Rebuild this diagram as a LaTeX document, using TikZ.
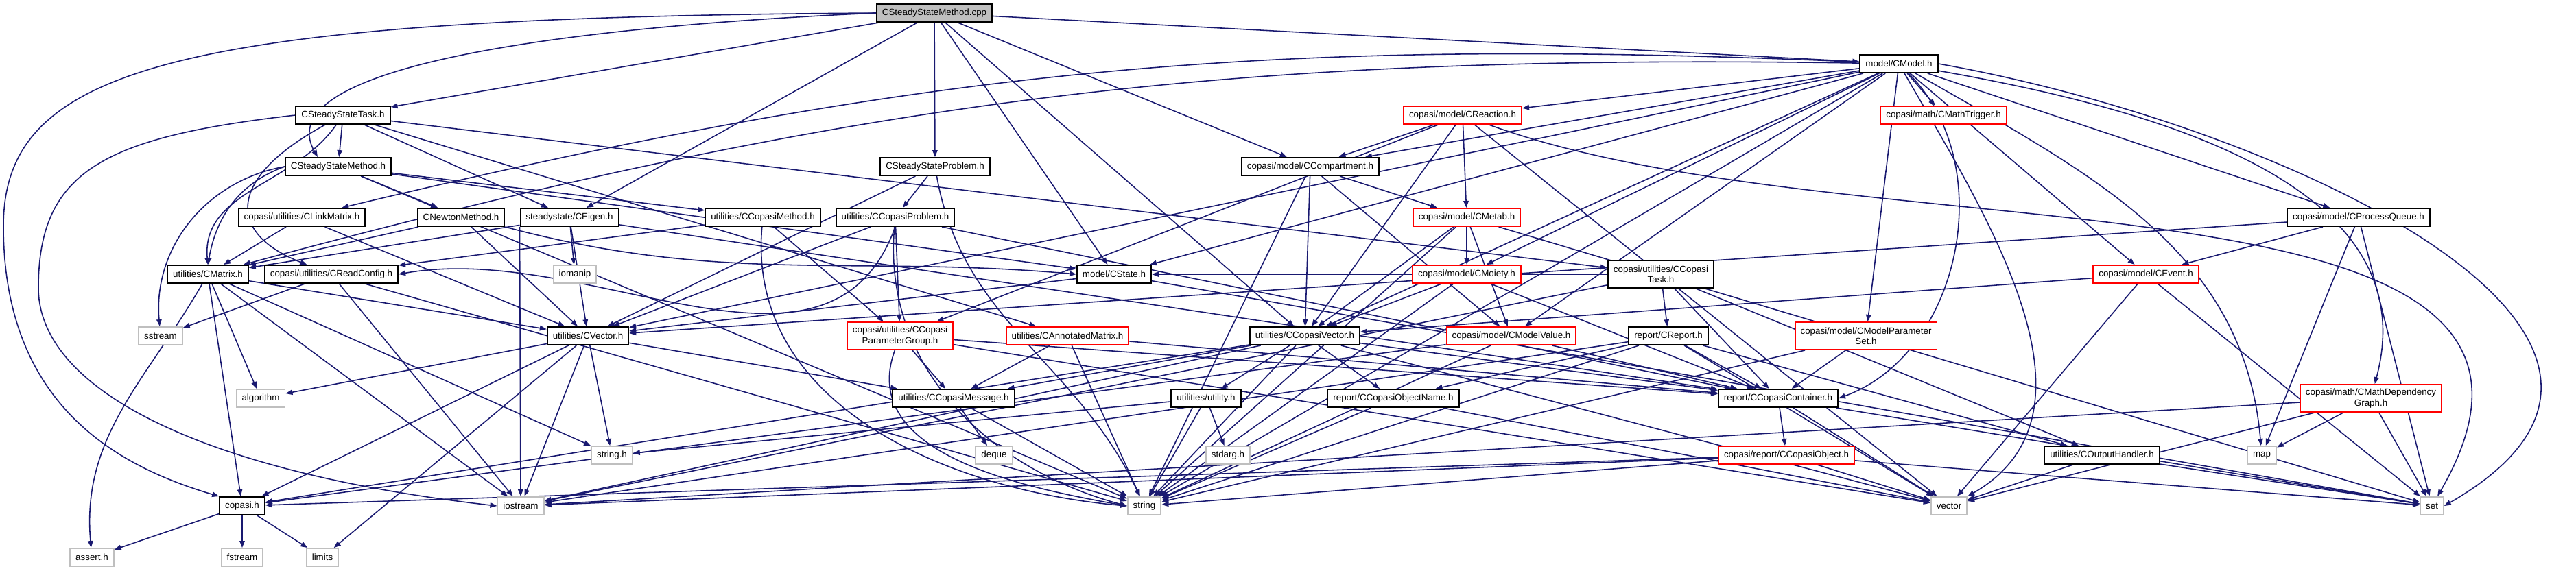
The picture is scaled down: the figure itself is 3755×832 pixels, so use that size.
\documentclass[tikz,border=0pt]{standalone}
\usepackage{fontspec}
\setmainfont{Liberation Sans}
\usetikzlibrary{arrows.meta,backgrounds}
\definecolor{incblue}{RGB}{25,25,112}
\definecolor{incred}{RGB}{255,0,0}
\definecolor{sysgray}{RGB}{191,191,191}

\begin{document}
\begin{tikzpicture}[
    x=0.01cm, y=-0.01cm,
    hdr/.style={draw=#1, fill=white, line width=0.55pt, minimum height=0.26cm, inner xsep=0.08cm, inner ysep=0pt, font=\fontsize{3.8}{4.4}\selectfont, align=center},
    hdr/.default=black,
    sys/.style={hdr=sysgray},
    bad/.style={hdr=incred},
    two/.style={minimum height=0.40cm},
    arr/.style={-{Triangle[length=0.1cm, width=0.075cm]}, incblue, line width=0.45pt}
]
\useasboundingbox (0,0) rectangle (3755,832);

% Source file and its headers
\node[hdr, fill=sysgray] (root) at (1362, 19) {CSteadyStateMethod.cpp};
\node[hdr] (model) at (2768, 93) {model/CModel.h};
\node[hdr] (task) at (500, 168) {CSteadyStateTask.h};
\node[bad] (react) at (2132, 168) {copasi/model/CReaction.h};
\node[bad] (trig) at (2833, 168) {copasi/math/CMathTrigger.h};
\node[hdr] (smeth) at (493, 243) {CSteadyStateMethod.h};
\node[hdr] (sprob) at (1363, 243) {CSteadyStateProblem.h};
\node[hdr] (comp) at (1910, 243) {copasi/model/CCompartment.h};
\node[hdr] (link) at (440, 317) {copasi/utilities/CLinkMatrix.h};
\node[hdr] (newton) at (672, 317) {CNewtonMethod.h};
\node[hdr] (eigen) at (830, 317) {steadystate/CEigen.h};
\node[hdr] (cmeth) at (1112, 317) {utilities/CCopasiMethod.h};
\node[hdr] (cprob) at (1305, 317) {utilities/CCopasiProblem.h};
\node[bad] (metab) at (2138, 317) {copasi/model/CMetab.h};
\node[hdr] (queue) at (3438, 317) {copasi/model/CProcessQueue.h};
\node[hdr] (matrix) at (303, 400) {utilities/CMatrix.h};
\node[hdr] (rconf) at (483, 400) {copasi/utilities/CReadConfig.h};
\node[sys] (iomanip) at (838, 400) {iomanip};
\node[hdr] (cstate) at (1624, 400) {model/CState.h};
\node[bad] (moiety) at (2138, 400) {copasi/model/CMoiety.h};
\node[hdr, two] (ctask) at (2421, 400) {copasi/utilities/CCopasi\\Task.h};
\node[bad] (event) at (3128, 400) {copasi/model/CEvent.h};
\node[sys] (sstream) at (234, 490) {sstream};
\node[hdr] (vec) at (857, 490) {utilities/CVector.h};
\node[bad, two] (pgroup) at (1312, 490) {copasi/utilities/CCopasi\\ParameterGroup.h};
\node[bad] (amat) at (1556, 490) {utilities/CAnnotatedMatrix.h};
\node[hdr] (cvec) at (1902, 490) {utilities/CCopasiVector.h};
\node[bad] (mvalue) at (2203, 490) {copasi/model/CModelValue.h};
\node[hdr] (report) at (2432, 490) {report/CReport.h};
\node[bad, two] (mpset) at (2720, 490) {copasi/model/CModelParameter\\Set.h};
\node[sys] (algo) at (380, 581) {algorithm};
\node[hdr] (cmsg) at (1390, 581) {utilities/CCopasiMessage.h};
\node[hdr] (util) at (1758, 581) {utilities/utility.h};
\node[hdr] (oname) at (2031, 581) {report/CCopasiObjectName.h};
\node[hdr] (cont) at (2592, 581) {report/CCopasiContainer.h};
\node[bad, two] (mdep) at (3456, 581) {copasi/math/CMathDependency\\Graph.h};
\node[sys] (strh) at (892, 664) {string.h};
\node[sys] (deque) at (1449, 664) {deque};
\node[sys] (stdarg) at (1790, 664) {stdarg.h};
\node[bad] (cobj) at (2604, 664) {copasi/report/CCopasiObject.h};
\node[hdr] (outh) at (3064, 664) {utilities/COutputHandler.h};
\node[sys] (map) at (3297, 664) {map};
\node[hdr] (copasi) at (353, 738) {copasi.h};
\node[sys] (iostr) at (759, 738) {iostream};
\node[sys] (string) at (1668, 738) {string};
\node[sys] (vector) at (2841, 738) {vector};
\node[sys] (set) at (3545, 738) {set};
\node[sys] (assert) at (134, 813) {assert.h};
\node[sys] (fstream) at (353, 813) {fstream};
\node[sys] (limits) at (470, 813) {limits};

% bends along the left rim
\coordinate (rimA) at (5, 330);
\coordinate (rimB) at (56, 420);

\begin{scope}[on background layer]
% Includes of the source file
\draw[arr] (root.west) .. controls (250,25) and (5,100) .. (rimA) .. controls (5,590) and (170,680) .. (copasi.north west);
\draw[arr] (root.west) .. controls (800,40) and (390,100) .. ([xshift=-0.3cm]smeth.north);
\draw[arr] (root) -- (task);
\draw[arr] (root) -- (eigen);
\draw[arr] (root) -- (sprob);
\draw[arr] (root) -- (cvec);
\draw[arr] (root) -- (cstate);
\draw[arr] (root) -- (comp);
\draw[arr] (root) -- (model);

% Steady state headers
\draw[arr] (task) -- (smeth);
\draw[arr] (task) to[out=235, in=95] (matrix.north);
\draw[arr] (task) .. controls (330,260) and (330,340) .. (rconf);
\draw[arr] (task) -- (eigen);
\draw[arr] (task) -- (amat);
\draw[arr] (task) -- (ctask);
\draw[arr] (task.west) .. controls (150,200) and (56,250) .. (rimB) .. controls (56,570) and (300,690) .. (iostr.west);
\draw[arr] (smeth) -- (newton);
\draw[arr] (smeth.west) to[out=200, in=80] (matrix.north);
\draw[arr] (smeth.west) to[out=190, in=95] (sstream);
\draw[arr] (smeth) -- (cmeth);
\draw[arr] (smeth) -- (string);
\draw[arr] (smeth) -- (cstate);
\draw[arr] (sprob) -- (cprob);
\draw[arr] (sprob) to[out=-80, in=115] (string);
\draw[arr] (sprob) -- (vec);
\draw[arr] (link) -- (matrix);
\draw[arr] (link) -- (vec);
\draw[arr] (newton) -- (matrix);
\draw[arr] (newton) -- (vec);
\draw[arr] (newton.south east) to[out=-15, in=175] (cstate.west);
\draw[arr] (eigen) -- (iomanip);
\draw[arr] (eigen) -- (vec);
\draw[arr] (eigen.south west) -- (iostr);
\draw[arr] (eigen) -- (matrix);
\draw[arr] (eigen) -- (cont);

% Utilities
\draw[arr] (cmeth) -- (rconf);
\draw[arr] (cmeth) to[out=-95, in=175] (string.west);
\draw[arr] (cmeth) -- (pgroup);
\draw[arr] (cprob) -- (vec);
\draw[arr] (cprob.south) to[out=-110, in=10] (rconf.east);
\draw[arr] (cprob) to[out=-95, in=165] (string.west);
\draw[arr] (cprob) -- (pgroup);
\draw[arr] (cprob) -- (cont);
\draw[arr] (matrix) -- (copasi);
\draw[arr] (matrix) to[out=-120, in=95] (assert);
\draw[arr] (matrix) -- (iostr);
\draw[arr] (matrix) -- (algo);
\draw[arr] (matrix) -- (strh);
\draw[arr] (matrix) -- (vec);
\draw[arr] (rconf) -- (sstream);
\draw[arr] (rconf) -- (iostr);
\draw[arr] (rconf) -- (string);
\draw[arr] (copasi) -- (assert);
\draw[arr] (copasi) -- (fstream);
\draw[arr] (copasi) -- (limits);
\draw[arr] (vec) -- (algo);
\draw[arr] (vec) -- (copasi);
\draw[arr] (vec) -- (limits);
\draw[arr] (vec) -- (iostr);
\draw[arr] (vec) -- (strh);
\draw[arr] (vec) -- (cmsg);

% Model headers
\draw[arr] (model) -- (cstate);
\draw[arr] (model) -- (react);
\draw[arr] (model) -- (trig);
\draw[arr] (model) -- (comp);
\draw[arr] (model) to[bend right=8] (link);
\draw[arr] (model) to[bend right=8] (matrix);
\draw[arr] (model) -- (vec);
\draw[arr] (model) -- (cvec);
\draw[arr] (model) -- (moiety);
\draw[arr] (model) -- (mvalue);
\draw[arr] (model) to[out=-45, in=20] (cont.east);
\draw[arr] (model) -- (mpset);
\draw[arr] (model) -- (event);
\draw[arr] (model) -- (queue);
\draw[arr] (model) to[out=-10, in=75] (mdep);
\draw[arr] (model) to[out=-60, in=30] (vector.north east);
\draw[arr] (model) to[out=-30, in=95] (map);
\draw[arr] (model.east) to[out=-10, in=30, looseness=1.3] (set.east);
\draw[arr] (model) -- (string);
\draw[arr] (react) -- (comp);
\draw[arr] (react) -- (metab);
\draw[arr] (react) -- (cvec);
\draw[arr] (react) -- (pgroup);
\draw[arr] (react) -- (vector);
\draw[arr] (react) to[out=-20, in=60] (set);
\draw[arr] (comp) -- (cvec);
\draw[arr] (comp) -- (metab);
\draw[arr] (comp) -- (mvalue);
\draw[arr] (comp) -- (string);
\draw[arr] (metab) -- (moiety);
\draw[arr] (metab) -- (mvalue);
\draw[arr] (metab) -- (string);
\draw[arr] (metab) -- (set);
\draw[arr] (metab) -- (cvec);
\draw[arr] (moiety) -- (cvec);
\draw[arr] (moiety) -- (string);
\draw[arr] (moiety) -- (cont);
\draw[arr] (cstate) -- (vec);
\draw[arr] (cstate) -- (set);
\draw[arr] (ctask) -- (report);
\draw[arr] (ctask) -- (cont);
\draw[arr] (ctask) -- (outh);
\draw[arr] (ctask) -- (cstate);
\draw[arr] (ctask) -- (iostr);
\draw[arr] (event) -- (cvec);
\draw[arr] (event) -- (vector);
\draw[arr] (event) -- (set);
\draw[arr] (queue) -- (event);
\draw[arr] (queue) -- (vec);
\draw[arr] (queue) -- (map);
\draw[arr] (queue) -- (set);

% Containers and objects
\draw[arr] (cvec) -- (oname);
\draw[arr] (cvec) -- (cont);
\draw[arr] (cvec) -- (cmsg);
\draw[arr] (cvec) -- (util);
\draw[arr] (cvec) -- (copasi);
\draw[arr] (cvec) -- (iostr);
\draw[arr] (cvec) -- (string);
\draw[arr] (cvec) -- (vector);
\draw[arr] (pgroup) -- (cmsg);
\draw[arr] (pgroup) to[out=-110, in=170] (string.west);
\draw[arr] (pgroup) -- (cont);
\draw[arr] (pgroup) -- (vector);
\draw[arr] (amat) -- (string);
\draw[arr] (amat) -- (cont);
\draw[arr] (amat) -- (cmsg);
\draw[arr] (mvalue) -- (copasi);
\draw[arr] (mvalue) -- (string);
\draw[arr] (mvalue) -- (cont);
\draw[arr] (report) -- (oname);
\draw[arr] (report) -- (iostr);
\draw[arr] (report) -- (string);
\draw[arr] (report) -- (vector);
\draw[arr] (report) -- (cont);
\draw[arr] (report) -- (outh);
\draw[arr] (mpset) -- (cont);
\draw[arr] (mpset) -- (string);
\draw[arr] (cmsg) -- (string);
\draw[arr] (cmsg) -- (deque);
\draw[arr] (util) -- (strh);
\draw[arr] (util) -- (string);
\draw[arr] (util) -- (stdarg);
\draw[arr] (oname) -- (string);
\draw[arr] (oname) -- (vector);
\draw[arr] (cont) -- (cobj);
\draw[arr] (cont) -- (vector);
\draw[arr] (cont) -- (set);
\draw[arr] (mdep) -- (iostr);
\draw[arr] (mdep) -- (map);
\draw[arr] (mdep) -- (vector);
\draw[arr] (mdep) -- (set);
\draw[arr] (cobj) -- (copasi);
\draw[arr] (cobj) -- (iostr);
\draw[arr] (cobj) -- (string);
\draw[arr] (cobj) -- (vector);
\draw[arr] (cobj) -- (set);
\draw[arr] (outh) -- (vector);
\draw[arr] (outh) -- (set);
\end{scope}
\end{tikzpicture}
\end{document}
